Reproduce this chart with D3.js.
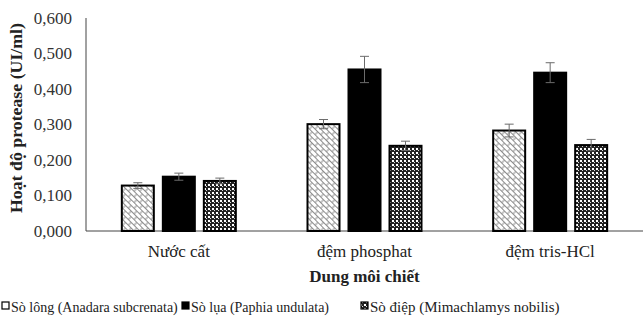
<!DOCTYPE html>
<html>
<head>
<meta charset="utf-8">
<script src="https://cdn.jsdelivr.net/npm/d3@7"></script>
<style>
  body { margin: 0; background: #fff; }
  svg { font-family: "Liberation Serif", "Times New Roman", serif; }
</style>
</head>
<body>
<svg id="chart" width="643" height="323"></svg>
<script>
// Data
const categories = ["Nước cất", "đệm phosphat", "đệm tris-HCl"];
const seriesNames = [
  "Sò lông (Anadara subcrenata)",
  "Sò lụa (Paphia undulata)",
  "Sò điệp (Mimachlamys  nobilis)"
];
const soLong = [0.128, 0.301, 0.283];
const soLua = [0.153, 0.455, 0.446];
const soDiep = [0.141, 0.240, 0.242];
const errLong = [0.008, 0.013, 0.018];
const errLua = [0.010, 0.037, 0.028];
const errDiep = [0.008, 0.013, 0.016];
const yTicks = [0, 0.1, 0.2, 0.3, 0.4, 0.5, 0.6];

const values = [soLong, soLua, soDiep];
const errors = [errLong, errLua, errDiep];
const fills = ["url(#brick)", "#000", "url(#dots)"];

const svg = d3.select("#chart");
const margin = { left: 86, right: 0, top: 18, bottom: 92 };
const width = 643;
const height = 323;

// Patterns
const defs = svg.append("defs");
const brick = defs.append("pattern")
  .attr("id", "brick")
  .attr("patternUnits", "userSpaceOnUse")
  .attr("width", 8)
  .attr("height", 8)
  .attr("patternTransform", "rotate(45)");
brick.append("rect").attr("width", 8).attr("height", 8).attr("fill", "#fff");
brick.append("path")
  .attr("d", "M0,0.5H8 M0,4.5H8 M2,0.5V4.5 M6,4.5V8.5")
  .attr("stroke", "#8c8c8c")
  .attr("stroke-width", 1)
  .attr("fill", "none");

const dots = defs.append("pattern")
  .attr("id", "dots")
  .attr("patternUnits", "userSpaceOnUse")
  .attr("width", 4)
  .attr("height", 4);
dots.append("rect").attr("width", 4).attr("height", 4).attr("fill", "#222");
dots.append("rect").attr("x", 0).attr("y", 0).attr("width", 2).attr("height", 2).attr("fill", "#fff");
dots.append("rect").attr("x", 2).attr("y", 2).attr("width", 1).attr("height", 1).attr("fill", "#ddd");

// Scales
const x0 = d3.scaleBand()
  .domain(categories)
  .range([margin.left, width - margin.right]);
const y = d3.scaleLinear()
  .domain([0, 0.6])
  .range([height - margin.bottom, margin.top]);

const barW = 32;
const barGap = 9;
const groupW = barW * 3 + barGap * 2;

// Axis lines
svg.append("line")
  .attr("x1", margin.left).attr("x2", margin.left)
  .attr("y1", y(0.6)).attr("y2", y(0))
  .attr("stroke", "#444").attr("stroke-width", 1);
svg.append("line")
  .attr("x1", margin.left).attr("x2", width)
  .attr("y1", y(0)).attr("y2", y(0))
  .attr("stroke", "#444").attr("stroke-width", 1);

// Y tick labels
svg.append("g")
  .selectAll("text")
  .data(yTicks)
  .enter()
  .append("text")
  .attr("x", 72)
  .attr("y", d => y(d))
  .attr("dy", "0.35em")
  .attr("text-anchor", "end")
  .style("font-size", "17px")
  .attr("fill", "#333")
  .text(d => d3.format(".3f")(d).replace(".", ","));

// Bars
values.forEach((series, s) => {
  svg.append("g")
    .selectAll("rect")
    .data(series)
    .enter()
    .append("rect")
    .attr("x", (d, i) => x0(categories[i]) + x0.bandwidth() / 2 - groupW / 2 + s * (barW + barGap))
    .attr("y", d => y(d))
    .attr("width", barW)
    .attr("height", d => y(0) - y(d))
    .attr("fill", fills[s])
    .attr("stroke", "#000")
    .attr("stroke-width", 2);

  // Error bars
  const eg = svg.append("g");
  series.forEach((d, i) => {
    const cx = x0(categories[i]) + x0.bandwidth() / 2 - groupW / 2 + s * (barW + barGap) + barW / 2;
    const e = errors[s][i];
    eg.append("line")
      .attr("x1", cx).attr("x2", cx)
      .attr("y1", y(d - e)).attr("y2", y(d + e))
      .attr("stroke", "#6b6b6b").attr("stroke-width", 1);
    [d - e, d + e].forEach(v => {
      eg.append("line")
        .attr("x1", cx - 4.5).attr("x2", cx + 4.5)
        .attr("y1", y(v)).attr("y2", y(v))
        .attr("stroke", "#6b6b6b").attr("stroke-width", 1);
    });
  });
});

// Category labels
svg.append("g")
  .selectAll("text")
  .data(categories)
  .enter()
  .append("text")
  .attr("x", d => x0(d) + x0.bandwidth() / 2)
  .attr("y", 257)
  .attr("text-anchor", "middle")
  .style("font-size", "17px")
  .attr("fill", "#222")
  .text(d => d);

// Axis titles
svg.append("text")
  .attr("x", (x0.range()[0] + x0.range()[1]) / 2)
  .attr("y", 282)
  .attr("text-anchor", "middle")
  .style("font-size", "17px")
  .style("font-weight", "bold")
  .attr("fill", "#222")
  .text("Dung môi chiết");

svg.append("text")
  .attr("transform", "translate(22,118) rotate(-90)")
  .attr("text-anchor", "middle")
  .attr("textLength", 190)
  .attr("lengthAdjust", "spacingAndGlyphs")
  .style("font-size", "17px")
  .style("font-weight", "bold")
  .attr("fill", "#222")
  .text("Hoạt độ protease (UI/ml)");

// Legend
const legendX = [2, 182, 361];
const legend = svg.append("g");
seriesNames.forEach((name, s) => {
  legend.append("rect")
    .attr("x", legendX[s])
    .attr("y", 302)
    .attr("width", 7)
    .attr("height", 7)
    .attr("fill", s === 1 ? "#000" : (s === 2 ? "url(#dots)" : "#fff"))
    .attr("stroke", "#000")
    .attr("stroke-width", 1.2);
  legend.append("text")
    .attr("x", legendX[s] + 9)
    .attr("y", 312)
    .style("font-size", "14px")
    .style("font-size", s === 2 ? "15px" : "14px")
    .attr("fill", "#222")
    .text(name);
});
</script>
</body>
</html>
